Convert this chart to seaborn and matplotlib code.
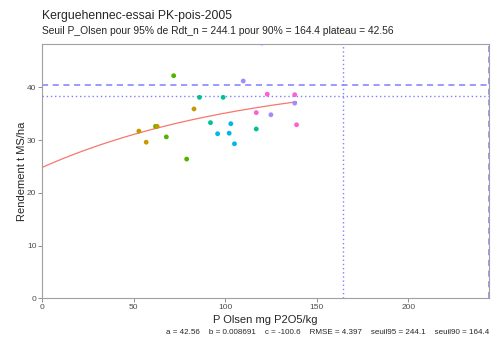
import numpy as np
import pandas as pd
import matplotlib
matplotlib.use("Agg")
import matplotlib.pyplot as plt
import seaborn as sns

# ---- data ----
p_olsen = [71.9, 86.0, 83.0, 52.9, 62.0, 62.9, 92.0, 56.9, 67.9, 95.9, 79.0,
           98.9, 109.9, 123.0, 138.0, 138.0, 117.0, 125.0, 103.1, 102.2, 105.1,
           117.0, 139.0, 120.0]
rendement = [42.2, 38.1, 35.9, 31.7, 32.6, 32.6, 33.3, 29.6, 30.6, 31.2, 26.4,
             38.1, 41.2, 38.7, 38.6, 37.0, 35.2, 34.8, 33.1, 31.3, 29.3,
             32.1, 32.9, 48.4]
groupe = ["g2", "g3", "g1", "g1", "g2", "g1", "g3", "g1", "g2", "g4", "g2",
          "g3", "g5", "g6", "g6", "g5", "g6", "g5", "g4", "g4", "g4",
          "g3", "g6", "g5"]
group_colors = {"g1": "#C49A00", "g2": "#53B400", "g3": "#00C094",
                "g4": "#00B6EB", "g5": "#A58AFF", "g6": "#FB61D7"}

a_par, b_par, c_par = 42.56, 0.008691, -100.6
rmse = 4.397
seuil95, seuil90 = 244.1, 164.4

title = "Kerguehennec-essai PK-pois-2005"
subtitle = "Seuil P_Olsen pour 95% de Rdt_n = 244.1 pour 90% = 164.4 plateau = 42.56"
footer = ("a = 42.56    b = 0.008691    c = -100.6    RMSE = 4.397    "
          "seuil95 = 244.1    seuil90 = 164.4")

df = pd.DataFrame({"P": p_olsen, "Rdt": rendement, "grp": groupe})
xfit = np.linspace(0, max(p_olsen), 200)
fit = pd.DataFrame({"P": xfit,
                    "Rdt": a_par * (1 - np.exp(-b_par * (xfit - c_par)))})

sns.set_style("white")
plt.rcParams["font.family"] = ["Liberation Sans", "DejaVu Sans"]

fig = plt.figure(figsize=(4.91, 3.39), dpi=100)
ax = fig.add_axes([0.0855, 0.12, 0.9105, 0.75])

line_col = "#7F7FFF"
ax.axhline(0.95 * a_par, color=line_col, lw=1.1, ls=(0, (4, 3)), zorder=1)
ax.axhline(0.90 * a_par, color=line_col, lw=1.0, ls=(0, (1, 2)), zorder=1)
ax.axvline(seuil90, color=line_col, lw=1.0, ls=(0, (1, 2)), zorder=1)
ax.axvline(seuil95, color=line_col, lw=1.1, ls=(0, (4, 3)), zorder=1)

sns.lineplot(data=fit, x="P", y="Rdt", color="#F8766D", lw=0.9, ax=ax,
             zorder=2)
sns.scatterplot(data=df, x="P", y="Rdt", hue="grp", palette=group_colors,
                s=12, edgecolor="none", legend=False, ax=ax, zorder=3)

ax.set_xlim(0, 244.1)
ax.set_ylim(0, 48.2)
ax.set_xticks([0, 50, 100, 150, 200])
ax.set_yticks([0, 10, 20, 30, 40])
ax.tick_params(axis="both", labelsize=6, colors="#7F7F7F", length=3,
               width=0.6, pad=1, bottom=True, left=True)
for lab in ax.get_xticklabels() + ax.get_yticklabels():
    lab.set_color("#4D4D4D")
for sp in ax.spines.values():
    sp.set_color("#A0A0A0")
    sp.set_linewidth(0.8)

ax.set_xlabel("P Olsen mg P2O5/kg", fontsize=8, labelpad=3)
ax.set_ylabel("Rendement t MS/ha", fontsize=8, labelpad=0)

fig.text(42 / 491, 1 - 16 / 339, title, fontsize=8.8, ha="left", va="center")
fig.text(42 / 491, 1 - 31 / 339, subtitle, fontsize=7.4, ha="left", va="center")
fig.text(489 / 491, 1 - 333 / 339, footer, fontsize=5.8, ha="right",
         va="center")

fig.savefig("out.png", dpi=100)
